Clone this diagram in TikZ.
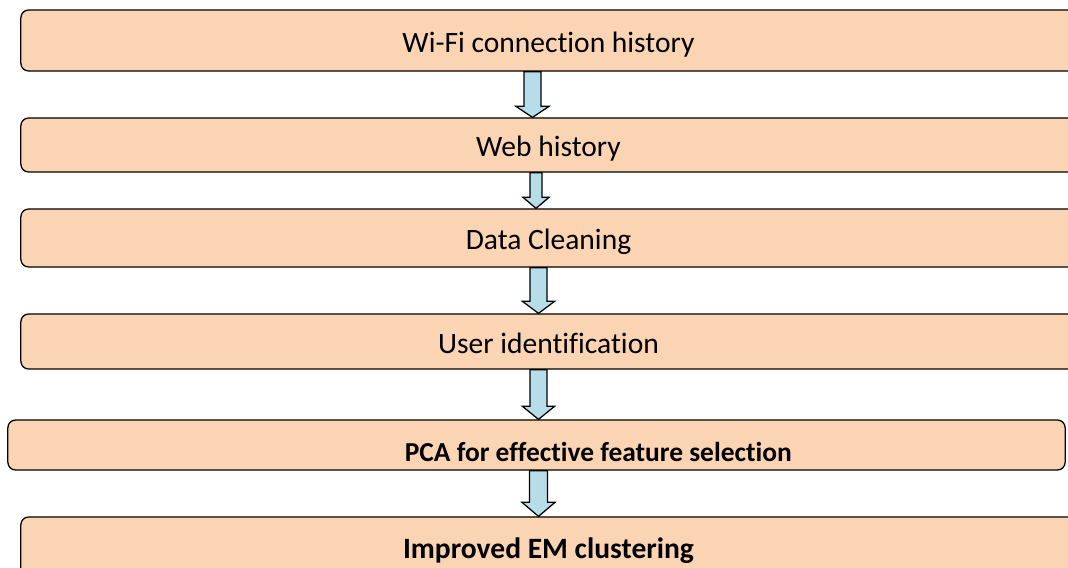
\documentclass[tikz,border=0pt]{standalone}
\usepackage{fontspec}
\setmainfont{Carlito}[Ligatures=NoCommon]
\usetikzlibrary{calc}
\definecolor{peach}{HTML}{FBD4B4}
\definecolor{paleblue}{HTML}{B7DDE8}
\tikzset{
	stage/.style={draw=black, line width=0.9pt, fill=peach, rounded corners=5.5pt, inner sep=0pt,
		font=\fontsize{21}{24}\selectfont, text height=17pt, text depth=0pt},
	arrowbody/.style={draw=black, line width=0.9pt, fill=paleblue, line join=miter}
}
\def\flowarrow(#1)(#2:#3)(#4:#5:#6){\draw[arrowbody] let \p5=(#1,0), \p1=(#2.south), \p2=(#3.north), \p3=(#4,#6), \p4=(#5,0) in (\x5-\x3,\y1) -- (\x5+\x3,\y1) -- (\x5+\x3,\y2-\y3) -- (\x5+\x4,\y2-\y3) -- (\x5,\y2) -- (\x5-\x4,\y2-\y3) -- (\x5-\x3,\y2-\y3) -- cycle;}

\begin{document}
\begin{tikzpicture}[x=0.025cm, y=-0.025cm]
			%%%%% START %%%%%
			\useasboundingbox (0, 0) rectangle (1068, 567);
			\clip (0, 0) rectangle (1068, 567);
			
			\node[stage, minimum width=26.375cm, minimum height=1.525cm] (wifi) at (548.5, 40.5) {Wi-Fi connection history};
			\node[stage, minimum width=26.375cm, minimum height=1.35cm] (web) at (548.5, 145) {Web history};
			\node[stage, minimum width=26.375cm, minimum height=1.45cm] (clean) at (548.5, 238) {Data Cleaning};
			\node[stage, minimum width=26.375cm, minimum height=1.375cm] (user) at (548.5, 341.5) {User identification};
			\node[stage, minimum width=26.425cm, minimum height=1.25cm,
				label={[font=\fontsize{19.5}{24}\selectfont\bfseries, xshift=44pt, yshift=-5pt]center:PCA for effective feature selection}] (pca) at (536.5, 445) {};
			\node[stage, minimum width=26.375cm, minimum height=1.5cm, font=\fontsize{21}{24}\selectfont\bfseries] (em) at (548.5, 547) {Improved EM clustering};
			
			\flowarrow(532.5)(wifi:web)(8.5:16.5:11)
			\flowarrow(536)(web:clean)(6:13:11)
			\flowarrow(538.5)(clean:user)(8.5:16:12)
			\flowarrow(538.5)(user:pca)(8.5:16:13)
			\flowarrow(538.5)(pca:em)(9:16.5:14)
			
			%%%%% END %%%%%
		\end{tikzpicture}
\end{document}
